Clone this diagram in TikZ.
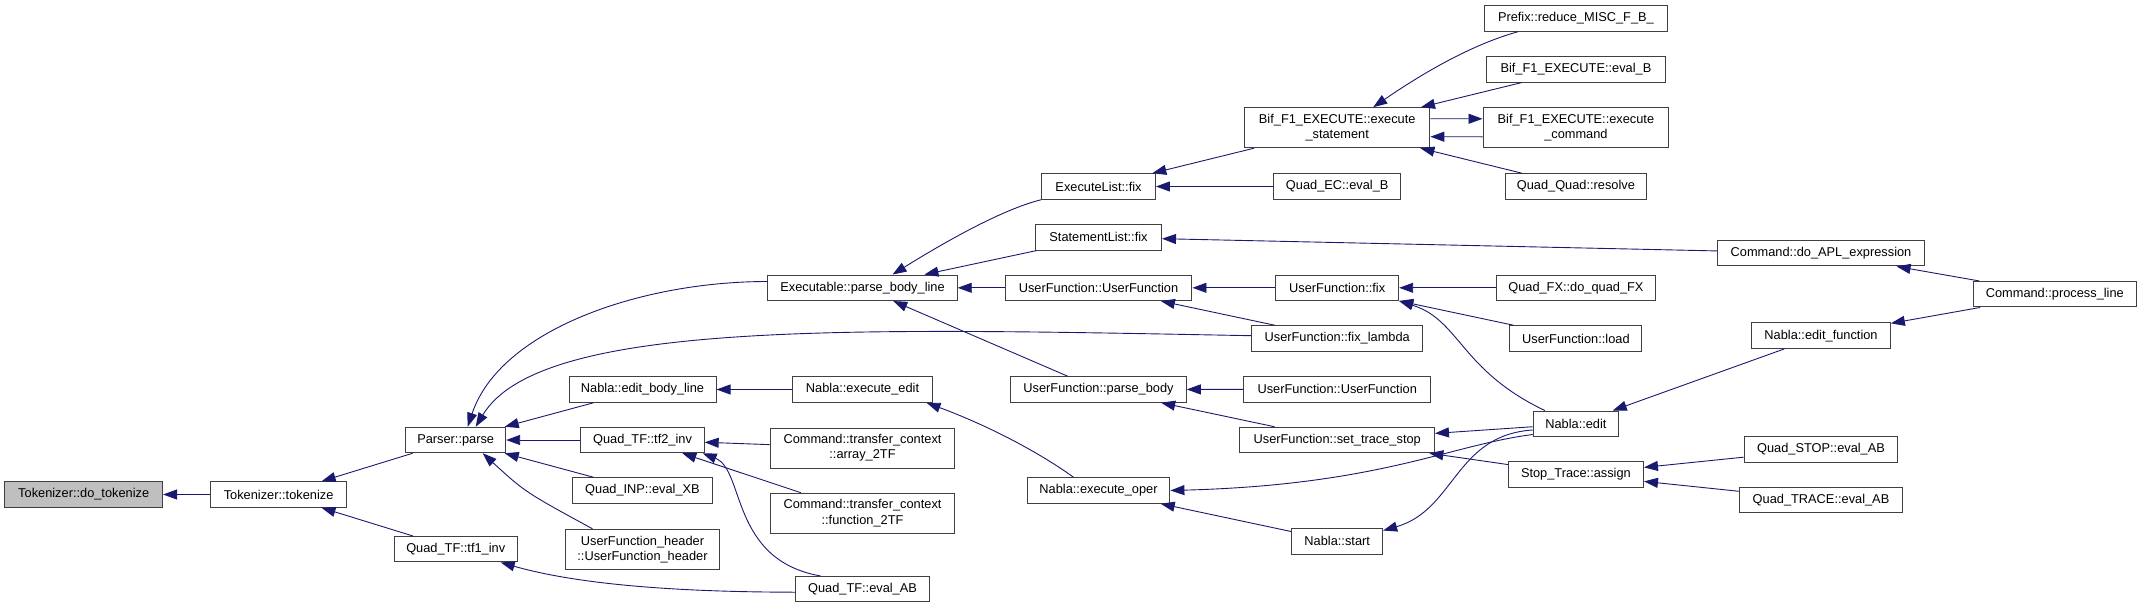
\documentclass[tikz,border=0pt]{standalone}
\usepackage{fontspec}
\setmainfont{Liberation Sans}
\usetikzlibrary{arrows.meta}

\definecolor{edgeblue}{HTML}{191970}
\definecolor{boxline}{HTML}{404040}
\definecolor{selfgray}{HTML}{BFBFBF}

\tikzset{
  fn/.style={draw=boxline, line width=1pt, fill=white, inner xsep=3pt, inner ysep=1pt,
    minimum height=25.5pt, align=center, font=\fontsize{12.8}{15.3}\selectfont},
  fntwo/.style={fn, minimum height=40pt},
  call/.style={draw=edgeblue, line width=0.9pt, arrows={Triangle[length=14pt, width=10pt]-}},
}

\begin{document}
\begin{tikzpicture}[x=1pt, y=-1pt]
  \useasboundingbox (0,0) rectangle (2141,608);

  % callee chain on the left
  \node[fn, fill=selfgray, minimum width=157.7pt] (dotok) at (83.7,494.5) {Tokenizer::do\_tokenize};
  \node[fn, minimum width=136.4pt] (tok) at (278.6,494.5) {Tokenizer::tokenize};
  \node[fn, minimum width=99.9pt] (parse) at (455.7,440) {Parser::parse};
  \node[fn, minimum width=122.9pt] (tfone) at (455.7,549.2) {Quad\_TF::tf1\_inv};

  % column 4
  \node[fn, minimum width=147pt] (ebl) at (642.5,389.5) {Nabla::edit\_body\_line};
  \node[fn, minimum width=123.3pt] (tftwo) at (642.5,440) {Quad\_TF::tf2\_inv};
  \node[fn, minimum width=140.5pt] (inp) at (642.5,490.5) {Quad\_INP::eval\_XB};
  \node[fntwo, minimum width=154.9pt] (ufh) at (642.5,549.3) {UserFunction\_header\\::UserFunction\_header};

  % column 5
  \node[fn, minimum width=189.4pt] (pbl) at (862.5,287.8) {Executable::parse\_body\_line};
  \node[fn, minimum width=139.1pt] (exedit) at (862.5,389.5) {Nabla::execute\_edit};
  \node[fntwo, minimum width=184.6pt] (arr) at (862.5,448) {Command::transfer\_context\\::array\_2TF};
  \node[fntwo, minimum width=184.6pt] (fun) at (862.5,513.2) {Command::transfer\_context\\::function\_2TF};
  \node[fn, minimum width=133.6pt] (tfab) at (862.5,589.2) {Quad\_TF::eval\_AB};

  % column 6
  \node[fn, minimum width=113.9pt] (elfix) at (1098.5,186.5) {ExecuteList::fix};
  \node[fn, minimum width=126pt] (slfix) at (1098.5,237.3) {StatementList::fix};
  \node[fn, minimum width=186.9pt] (ufone) at (1098.5,287.8) {UserFunction::UserFunction};
  \node[fn, minimum width=175.5pt] (pbody) at (1098.5,389.5) {UserFunction::parse\_body};
  \node[fn, minimum width=142.8pt] (exoper) at (1098.5,490.5) {Nabla::execute\_oper};

  % column 7
  \node[fntwo, minimum width=185.3pt] (exstmt) at (1337.2,127.7) {Bif\_F1\_EXECUTE::execute\\\_statement};
  \node[fn, minimum width=127.1pt] (ecb) at (1337.2,186.5) {Quad\_EC::eval\_B};
  \node[fn, minimum width=122.9pt] (uffix) at (1337.2,287.8) {UserFunction::fix};
  \node[fn, minimum width=170.8pt] (lambda) at (1337.2,338.5) {UserFunction::fix\_lambda};
  \node[fn, minimum width=186.9pt] (uftwo) at (1337.2,389.3) {UserFunction::UserFunction};
  \node[fn, minimum width=194.5pt] (trstop) at (1337.2,440) {UserFunction::set\_trace\_stop};
  \node[fn, minimum width=90.9pt] (nstart) at (1337.2,541.3) {Nabla::start};

  % column 8
  \node[fn, minimum width=183pt] (prefix) at (1575.9,18.5) {Prefix::reduce\_MISC\_F\_B\_};
  \node[fn, minimum width=178.9pt] (bifb) at (1575.9,69.3) {Bif\_F1\_EXECUTE::eval\_B};
  \node[fntwo, minimum width=185.8pt] (excmd) at (1575.9,127.8) {Bif\_F1\_EXECUTE::execute\\\_command};
  \node[fn, minimum width=141.7pt] (qqres) at (1575.9,186.5) {Quad\_Quad::resolve};
  \node[fn, minimum width=158.9pt] (qfx) at (1575.9,287.8) {Quad\_FX::do\_quad\_FX};
  \node[fn, minimum width=132pt] (load) at (1575.9,338.5) {UserFunction::load};
  \node[fn, minimum width=85.4pt] (nedit) at (1575.9,423.8) {Nabla::edit};
  \node[fn, minimum width=135.1pt] (assign) at (1575.9,474.3) {Stop\_Trace::assign};

  % columns 9 and 10
  \node[fn, minimum width=207.4pt] (aplexpr) at (1821,253.2) {Command::do\_APL\_expression};
  \node[fn, minimum width=138.7pt] (editfn) at (1821,335.7) {Nabla::edit\_function};
  \node[fn, minimum width=153.9pt] (qstop) at (1821,449.3) {Quad\_STOP::eval\_AB};
  \node[fn, minimum width=163.2pt] (qtrace) at (1821,499.8) {Quad\_TRACE::eval\_AB};
  \node[fn, minimum width=162.8pt] (procline) at (2054.8,294.2) {Command::process\_line};

  % calls, arrow at the callee
  \draw[call] (dotok) -- (tok);
  \draw[call] (tok) -- (parse);
  \draw[call] (tok) -- (tfone);
  \draw[call] ([xshift=12pt]parse.north) .. controls (500,330) and (640,281.5) .. ([yshift=6.3pt]pbl.west);
  \draw[call] ([xshift=20pt]parse.north) .. controls (540,320) and (850,328) .. ([yshift=2.8pt]lambda.west);
  \draw[call] (parse) -- (ebl);
  \draw[call] (parse) -- (tftwo);
  \draw[call] (parse) -- (inp);
  \draw[call] ([xshift=27pt]parse.south) .. controls (525,492) .. ([xshift=-50pt]ufh.north);
  \draw[call] ([xshift=45pt]tfone.south) .. controls (580,585) and (680,592) .. ([yshift=-3pt]tfab.west);
  \draw[call] ([xshift=30pt]pbl.north) .. controls (940,245) and (1000,210) .. (elfix.south west);
  \draw[call] (pbl) -- (slfix);
  \draw[call] (pbl) -- (ufone);
  \draw[call] (pbl) -- (pbody);
  \draw[call] (ebl) -- (exedit);
  \draw[call] ([xshift=-6pt]exedit.south east) .. controls (1000,430) and (1050,460) .. ([xshift=-25pt]exoper.north);
  \draw[call] (tftwo) -- (arr);
  \draw[call] (tftwo) -- (fun);
  \draw[call] ([xshift=-2pt]tftwo.south east) .. controls (745,470) and (730,560) .. ([xshift=-42pt]tfab.north);
  \draw[call] (elfix) -- (exstmt);
  \draw[call] (elfix) -- (ecb);
  \draw[call] (slfix) -- (aplexpr);
  \draw[call] (ufone) -- (uffix);
  \draw[call] (ufone) -- (lambda);
  \draw[call] ([xshift=36pt]exstmt.north) .. controls (1420,75) and (1470,45) .. ([xshift=-58pt]prefix.south);
  \draw[call] (exstmt) -- (bifb);
  \draw[call] ([yshift=-9pt]exstmt.east) -- ([yshift=-9pt]excmd.west);
  \draw[call] ([yshift=9pt]excmd.west) -- ([yshift=9pt]exstmt.east);
  \draw[call] (exstmt) -- (qqres);
  \draw[call] (uffix) -- (qfx);
  \draw[call] (uffix) -- (load);
  \draw[call] (uffix.south east) .. controls (1460,320) and (1460,370) .. ([xshift=-31pt]nedit.north);
  \draw[call] (pbody) -- (uftwo);
  \draw[call] (pbody) -- (trstop);
  \draw[call] (exoper.east) .. controls (1380,485) and (1450,445) .. ([yshift=-10.7pt]nedit.west);
  \draw[call] (exoper) -- (nstart);
  \draw[call] (trstop) -- (nedit);
  \draw[call] (trstop) -- (assign);
  \draw[call] ([yshift=10.8pt]nstart.east) .. controls (1455,510) and (1455,435) .. ([yshift=-6.2pt]nedit.west);
  \draw[call] (nedit) -- (editfn);
  \draw[call] (editfn) -- (procline);
  \draw[call] (aplexpr) -- (procline);
  \draw[call] (assign) -- (qstop);
  \draw[call] (assign) -- (qtrace);
\end{tikzpicture}
\end{document}
